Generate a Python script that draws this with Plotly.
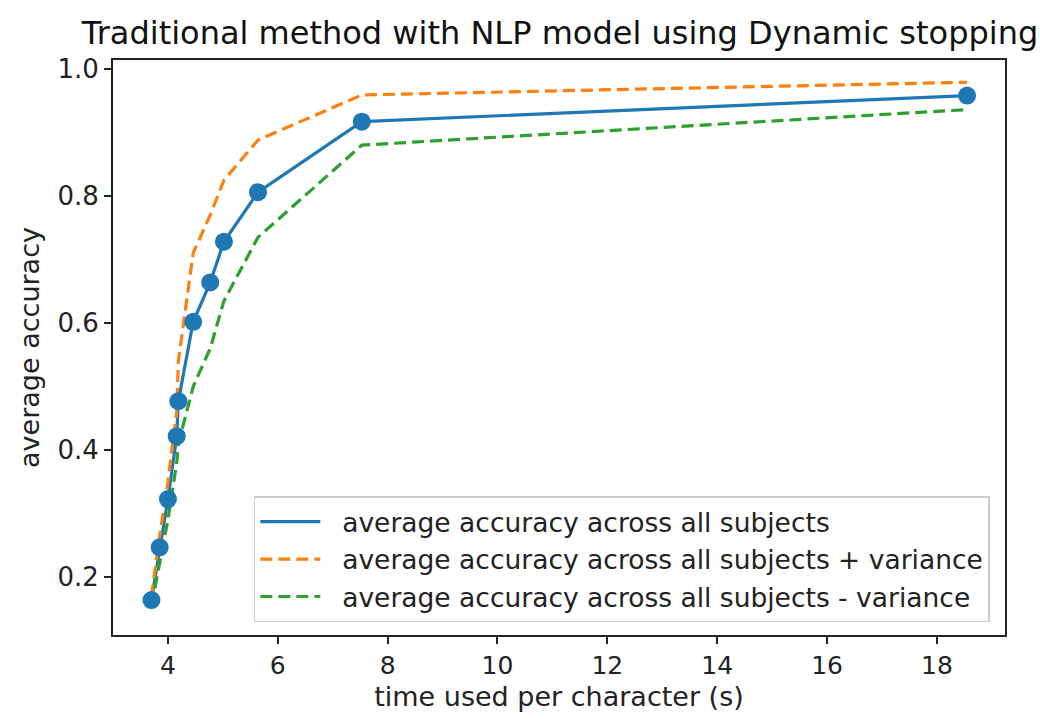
import plotly.graph_objects as go

# time used per character (s)
time_per_char = [3.70, 3.85, 4.00, 4.16, 4.19, 4.46, 4.77, 5.02, 5.64, 7.53, 18.55]
# average accuracy across all subjects
acc_mean = [0.164, 0.247, 0.323, 0.422, 0.477, 0.602, 0.664, 0.728, 0.806, 0.917, 0.958]
# + variance
acc_upper = [0.170, 0.265, 0.350, 0.460, 0.540, 0.710, 0.770, 0.825, 0.888, 0.959, 0.979]
# - variance
acc_lower = [0.155, 0.225, 0.290, 0.380, 0.410, 0.500, 0.560, 0.635, 0.735, 0.880, 0.936]

x_ticks = [4, 6, 8, 10, 12, 14, 16, 18]
y_ticks = [0.2, 0.4, 0.6, 0.8, 1.0]

BLUE, ORANGE, GREEN = "#1f77b4", "#ff7f0e", "#2ca02c"
FONT = "DejaVu Sans"
PAD = "\u00a0\u00a0"

fig = go.Figure()
fig.add_trace(go.Scatter(x=time_per_char, y=acc_mean, mode="lines",
                         line=dict(color=BLUE, width=3.2),
                         name=PAD + "average accuracy across all subjects"))
fig.add_trace(go.Scatter(x=time_per_char, y=acc_upper, mode="lines",
                         line=dict(color=ORANGE, width=3.2, dash="12px,6px"),
                         name=PAD + "average accuracy across all subjects + variance"))
fig.add_trace(go.Scatter(x=time_per_char, y=acc_lower, mode="lines",
                         line=dict(color=GREEN, width=3.2, dash="12px,6px"),
                         name=PAD + "average accuracy across all subjects - variance"))
fig.add_trace(go.Scatter(x=time_per_char, y=acc_mean, mode="markers",
                         marker=dict(color=BLUE, size=18),
                         showlegend=False, hoverinfo="skip"))

fig.update_layout(
    width=1040, height=719,
    margin=dict(l=113, r=35, t=60, b=81),
    paper_bgcolor="white", plot_bgcolor="white",
    font=dict(family=FONT, color="#222222", size=25),
    title=dict(text="Traditional method with NLP model using Dynamic stopping",
               x=0.5385, xanchor="center", y=0.955, yanchor="middle",
               font=dict(size=32, color="#111111")),
    legend=dict(x=0.983, xanchor="right", y=0.022, yanchor="bottom",
                bgcolor="rgba(255,255,255,0.85)", bordercolor="#cccccc", borderwidth=1.5,
                font=dict(size=26.5, color="#222222"), itemwidth=60,
                tracegroupgap=0),
)
fig.update_xaxes(range=[3.0, 19.24], tickvals=x_ticks, ticktext=[str(v) for v in x_ticks],
                 showgrid=False, zeroline=False, showline=True, linecolor="#222222",
                 linewidth=2, mirror=True, ticks="outside", ticklen=7, tickwidth=1.5,
                 tickcolor="#222222", tickfont=dict(size=25),
                 title=dict(text="time used per character (s)", font=dict(size=27), standoff=8))
fig.update_yaxes(range=[0.109, 1.014], tickvals=y_ticks, ticktext=["0.2", "0.4", "0.6", "0.8", "1.0"],
                 showgrid=False, zeroline=False, showline=True, linecolor="#222222",
                 linewidth=2, mirror=True, ticks="outside", ticklen=7, tickwidth=1.5,
                 tickcolor="#222222", tickfont=dict(size=26),
                 title=dict(text="average accuracy", font=dict(size=27), standoff=10))

fig.write_html("out.html")
